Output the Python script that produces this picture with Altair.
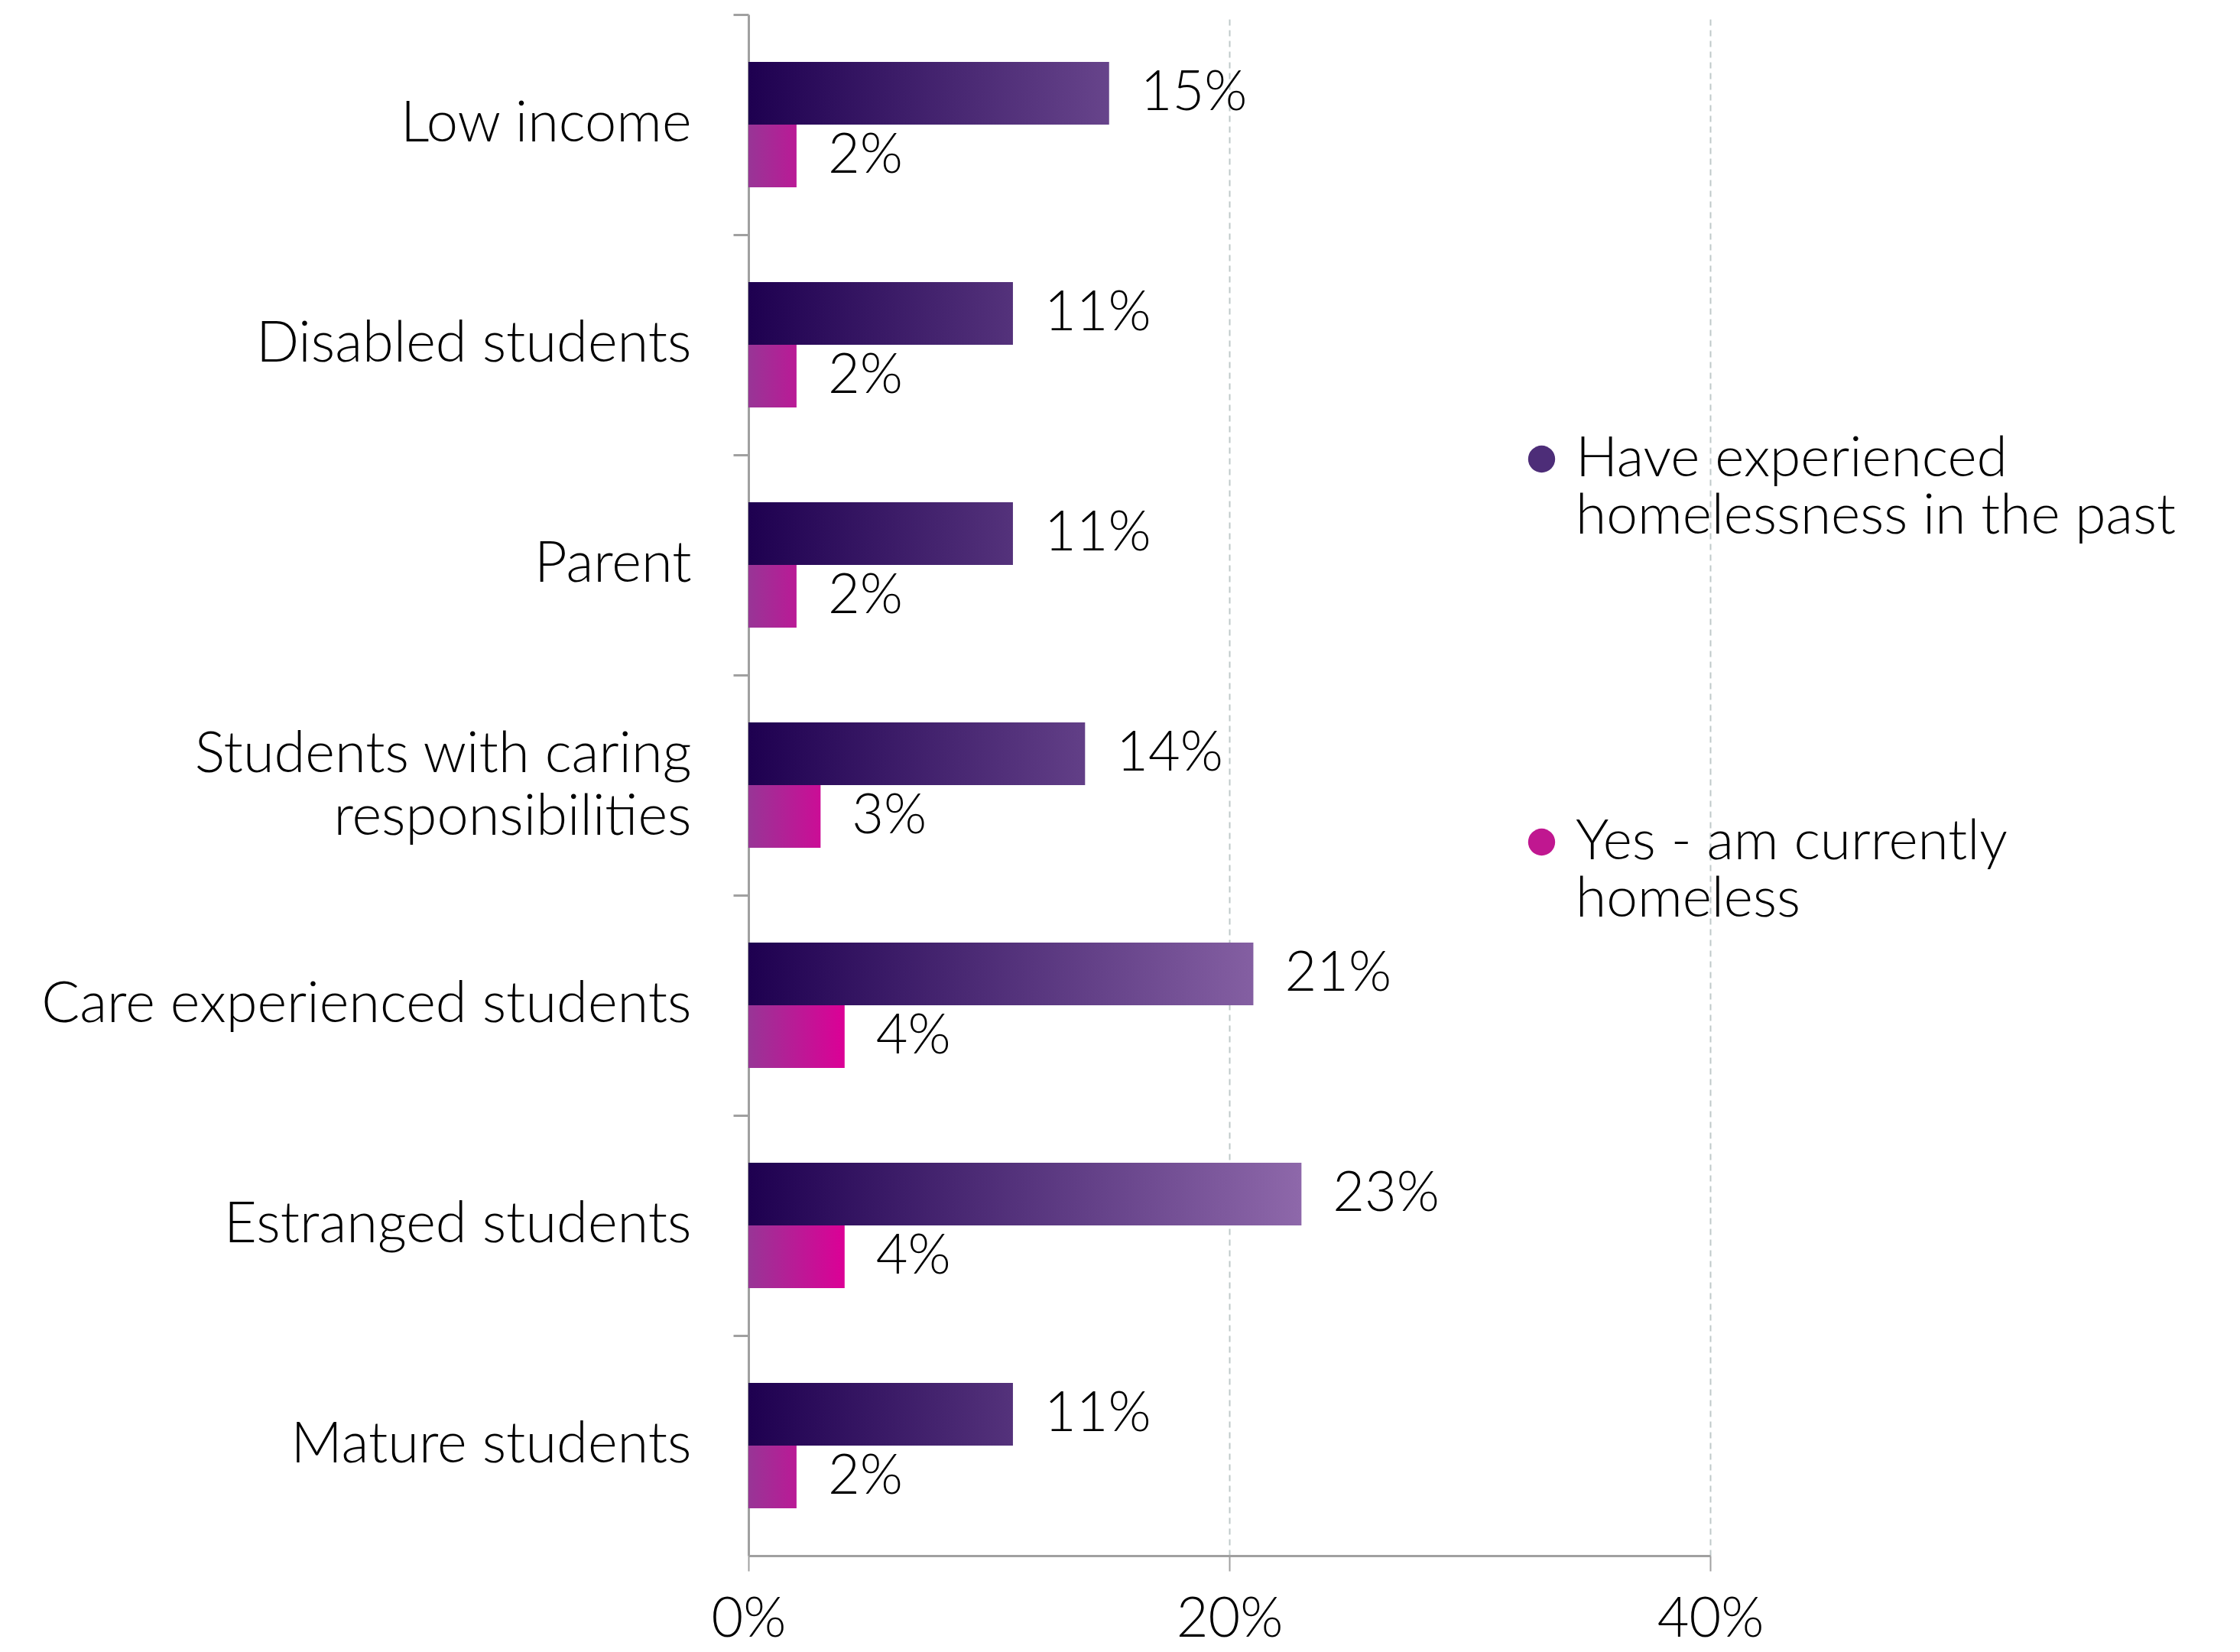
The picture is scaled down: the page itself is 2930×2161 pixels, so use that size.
import altair as alt

categories = [
    "Low income",
    "Disabled students",
    "Parent",
    "Students with caring responsibilities",
    "Care experienced students",
    "Estranged students",
    "Mature students",
]
past = [15, 11, 11, 14, 21, 23, 11]
current = [2, 2, 2, 3, 4, 4, 2]
series = ["Have experienced homelessness in the past", "Yes - am currently homeless"]
x_ticks = [0, 20, 40]

FONT = "Lato"
WEIGHT = 300


def hex2rgb(h):
    h = h.lstrip("#")
    return tuple(int(h[i:i + 2], 16) for i in (0, 2, 4))


def lerp(a, b, t):
    ca, cb = hex2rgb(a), hex2rgb(b)
    c = [max(0, min(255, round(ca[i] + (cb[i] - ca[i]) * t))) for i in range(3)]
    return "#%02x%02x%02x" % tuple(c)


def grad(c0, c1):
    return {
        "gradient": "linear",
        "x1": 0, "y1": 0, "x2": 1, "y2": 0,
        "stops": [{"offset": 0, "color": c0}, {"offset": 1, "color": c1}],
    }


# gradient endpoints (colour at bar start, colour at reference value)
grad_spec = {
    series[0]: ("#1e0050", "#8e68aa", 23.0),
    series[1]: ("#983596", "#dc0096", 4.0),
}

records = []
for cat, p, c in zip(categories, past, current):
    for s, v in ((series[0], p), (series[1], c)):
        c0, c1, ref = grad_spec[s]
        records.append({
            "category": cat,
            "series": s,
            "value": v,
            "label": f"{v}%",
            "fill": grad(c0, lerp(c0, c1, v / ref)),
        })

data = alt.Data(values=records)

y_enc = alt.Y(
    "category:N",
    sort=categories,
    scale=alt.Scale(paddingInner=0, paddingOuter=0),
    axis=alt.Axis(
        title=None,
        bandPosition=0,
        domainColor="#a0a0a0",
        domainWidth=3,
        tickColor="#a0a0a0",
        tickWidth=3,
        tickSize=20,
        labelFont=FONT,
        labelFontSize=74,
        labelFontWeight=WEIGHT,
        labelColor="#000000",
        labelPadding=55,
        labelLimit=1200,
        labelLineHeight=82,
        labelOffset={
            "condition": {"test": "datum.value == 'Students with caring responsibilities'", "value": -39},
            "value": 0,
        },
        labelExpr="datum.label == 'Students with caring responsibilities' ? ['Students with caring', 'responsibilities'] : datum.label",
    ),
)

x_enc = alt.X(
    "value:Q",
    scale=alt.Scale(domain=[0, 40], nice=False),
    axis=alt.Axis(
        title=None,
        values=x_ticks,
        labelExpr="datum.value + '%'",
        labelFlush=False,
        grid=True,
        gridColor="#bfc9c9",
        gridWidth=2,
        gridDash=[8, 6],
        domainColor="#a0a0a0",
        domainWidth=3,
        tickColor="#a0a0a0",
        tickWidth=2,
        tickSize=20,
        labelFont=FONT,
        labelFontSize=72,
        labelFontWeight=WEIGHT,
        labelColor="#000000",
        labelPadding=28,
    ),
)

yoff = alt.YOffset(
    "series:N",
    sort=series,
    scale=alt.Scale(paddingInner=0, paddingOuter=0.756),
)

bars = alt.Chart(data).mark_bar(strokeWidth=0).encode(
    x=x_enc,
    y=y_enc,
    yOffset=yoff,
    fill=alt.Fill("fill:N", scale=None),
)

labels = alt.Chart(data).mark_text(
    align="left", baseline="middle", dx=41,
    font=FONT, fontSize=72, fontWeight=WEIGHT, color="#000000",
).encode(
    x="value:Q",
    y=alt.Y("category:N", sort=categories),
    yOffset=yoff,
    text="label:N",
)

legend_layer = alt.Chart(data).mark_point(filled=True, opacity=0).encode(
    x="value:Q",
    y=alt.Y("category:N", sort=categories),
    color=alt.Color(
        "series:N",
        sort=series,
        scale=alt.Scale(domain=series, range=["#4d2d78", "#c01790"]),
        legend=alt.Legend(
            title=None,
            orient="none",
            legendX=1001,
            legendY=545,
            symbolType="circle",
            symbolSize=1250,
            symbolOpacity=1,
            symbolStrokeWidth=0,
            labelFont=FONT,
            labelFontSize=73,
            labelFontWeight=WEIGHT,
            labelColor="#000000",
            labelOffset=8,
            labelLimit=1500,
            rowPadding=352,
            labelExpr="datum.label == 'Have experienced homelessness in the past' ? ['Have experienced', 'homelessness in the past'] : ['Yes - am currently', 'homeless']",
        ),
    ),
)

chart = alt.layer(bars, labels, legend_layer).properties(
    width=1258,
    height=2016,
    padding={"left": 971, "top": 11, "right": 680, "bottom": 126},
    autosize=alt.AutoSizeParams(type="none"),
    background="#ffffff",
).configure_view(stroke=None)

chart.save("out.html", embed_options={"renderer": "svg", "actions": False})
